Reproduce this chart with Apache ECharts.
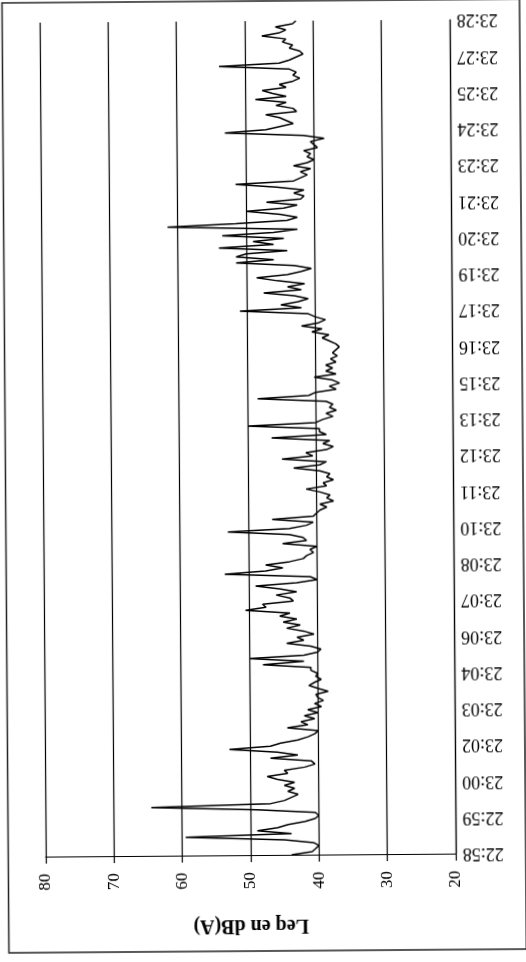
<!DOCTYPE html>
<html>
<head>
<meta charset="utf-8">
<script src="https://cdn.jsdelivr.net/npm/echarts@6/dist/echarts.min.js"></script>
<style>
html,body{margin:0;padding:0;background:#fff;overflow:hidden;}
#c{width:526px;height:962px;transform:rotate(-0.42deg);transform-origin:50% 50%;}
</style>
</head>
<body>
<div id="c"></div>
<script>
// Time-axis tick labels (one every 12 samples)
const tickLabels = ['22:58','22:59','23:00','23:02','23:03','23:04','23:06','23:07','23:08','23:10','23:11','23:12','23:13','23:15','23:16','23:17','23:19','23:20','23:21','23:23','23:24','23:25','23:27','23:28'];
const samplesPerTick = 12;
// Value axis
const valueMin = 20, valueMax = 80, valueStep = 10;
const axisTitle = 'Leq en dB(A)';
// Leq values in dB(A), from 22:58 to 23:28
const leq = [
 44, 41, 40.5, 40, 40.8, 45, 59.5, 44, 49, 46, 44.5, 42, 40.5, 40, 40.5, 49, 64.5, 47, 45, 44, 43, 44.5, 43.5, 45, 43.5, 46,
 47.5, 44.5, 45, 42, 40.5, 41, 47, 43, 46, 53, 47, 45.5, 43, 41.5, 40.5, 40, 44.5, 41.5, 42.5, 40.5, 42, 40, 41.5, 39.5, 40.5, 39.2, 40, 40.3, 38.5, 40, 41.3, 40.5, 39.5, 40.3, 40, 41,
 41, 48, 42, 50, 42, 40, 39.5, 41, 44.5, 42, 43, 40.5, 42, 44.5, 42.5, 45, 43, 45.5, 44, 50.5, 47.5, 48, 43.5, 44, 46, 43, 45.5, 49, 43, 40, 41, 53.5, 47.5, 45, 47.5, 44,
 42, 41.5, 40.5, 41, 40, 45, 41.5, 42, 44, 53, 44, 41.5, 40.5, 46.5, 40.5, 40, 39.5, 38.5, 39.5, 37.5, 38.5, 38, 39.5, 41.5, 38.5, 39, 37.5, 38.5, 38, 39.5, 43.3, 39.5, 38.5, 45, 40.5,
 41.5, 38.5, 37.5, 39, 38, 46.5, 38.5, 39.5, 39.5, 50, 40, 39, 37.5, 38.5, 37, 38, 37.5, 38.5, 48.5, 41, 40, 37, 38, 36.5, 37.5, 40.2, 37, 38.5, 37.5, 38.5, 37, 37.8, 36.8, 37.5, 37, 36.5,
 37, 38, 39, 38, 40.5, 39, 42, 39.5, 38.5, 40, 41, 51, 42, 45, 42.5, 41, 43, 47.5, 42, 44, 41.5, 45.5, 48.5, 44, 42, 40.5, 43, 51.5, 46, 51.5, 50, 44, 54, 46, 49, 44.5, 53.5,
 46, 42.5, 61.5, 51.5, 44, 42.5, 45, 50, 44.5, 42.5, 47, 42, 41.5, 43, 41.5, 45.5, 51.5, 43, 42, 41, 42, 40.5, 43, 41, 40, 41, 40.5, 41.5, 39.5, 40, 40.5, 38.5, 41.5, 53, 47, 45,
 43, 44, 45, 47, 42.5, 43, 45.5, 44, 48.5, 44, 46, 47.5, 44, 45, 43, 42, 43, 42.5, 43.5, 53.8, 45, 43.5, 42.5, 41.5, 42, 43.5, 43, 44.5, 44, 47.5, 45, 44, 45.5, 43, 42.5
];

const categories = leq.map((v, i) => (i % samplesPerTick === 0 ? (tickLabels[i / samplesPerTick] || '') : ''));

const serif = '"Liberation Serif","DejaVu Serif",serif';
const chart = echarts.init(document.getElementById('c'), null, {renderer: 'canvas'});
chart.setOption({
  animation: false,
  backgroundColor: '#fff',
  grid: {left: 43, right: 73, top: 21, bottom: 107, containLabel: false},
  graphic: [{
    type: 'rect', silent: true,
    shape: {x: 5.5, y: 1, width: 517.5, height: 950},
    style: {fill: 'none', stroke: '#222', lineWidth: 1.5}
  }],
  xAxis: {
    type: 'value', min: valueMin, max: valueMax, interval: valueStep, inverse: true,
    position: 'bottom',
    axisLine: {show: true, onZero: false, lineStyle: {color: '#000', width: 1.2}},
    axisTick: {show: true, length: 7, lineStyle: {color: '#000', width: 1.2}},
    axisLabel: {rotate: 90, margin: 17, fontFamily: serif, fontSize: 17, color: '#000'},
    splitLine: {show: true, lineStyle: {color: '#000', width: 1.2}},
    name: axisTitle, nameLocation: 'middle', nameGap: 60, nameRotate: 180,
    nameTextStyle: {fontFamily: serif, fontSize: 20, fontWeight: 'bold', color: '#000'}
  },
  yAxis: {
    type: 'category', data: categories, boundaryGap: false, position: 'right',
    axisLine: {show: true, onZero: false, lineStyle: {color: '#000', width: 1.2}},
    axisTick: {show: false},
    axisLabel: {interval: samplesPerTick - 1, rotate: 180, margin: 7, fontFamily: serif, fontSize: 18, color: '#000'},
    splitLine: {show: false}
  },
  series: [{
    type: 'line', data: leq, showSymbol: false, symbol: 'none',
    lineStyle: {color: '#000', width: 1.5}
  }]
});
</script>
</body>
</html>
